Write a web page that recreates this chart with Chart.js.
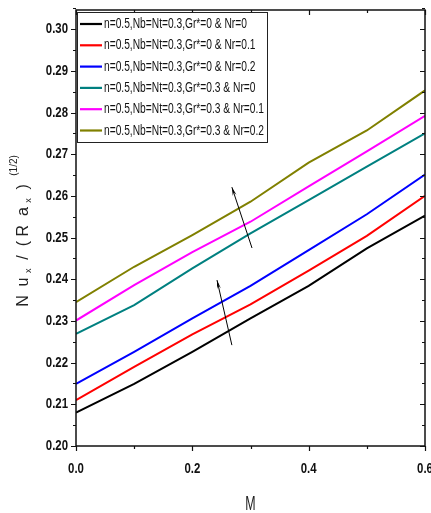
<!DOCTYPE html>
<html><head><meta charset="utf-8">
<script src="https://cdn.jsdelivr.net/npm/chart.js@4/dist/chart.umd.min.js"></script>
<style>html,body{margin:0;padding:0;background:#fff}#wrap{width:431px;height:513px}</style>
</head><body><div id="wrap"><canvas id="c" width="431" height="513"></canvas></div>
<script>
const M = [0, 0.1, 0.2, 0.3, 0.4, 0.5, 0.6];
const labels = [
  "n=0.5,Nb=Nt=0.3,Gr*=0 & Nr=0",
  "n=0.5,Nb=Nt=0.3,Gr*=0 & Nr=0.1",
  "n=0.5,Nb=Nt=0.3,Gr*=0 & Nr=0.2",
  "n=0.5,Nb=Nt=0.3,Gr*=0.3 & Nr=0",
  "n=0.5,Nb=Nt=0.3,Gr*=0.3 & Nr=0.1",
  "n=0.5,Nb=Nt=0.3,Gr*=0.3 & Nr=0.2"
];
const grA_nr0  = [0.2080, 0.2149, 0.2226, 0.2306, 0.2384, 0.2474, 0.2553];
const grA_nr01 = [0.2110, 0.2190, 0.2268, 0.2340, 0.2421, 0.2504, 0.2600];
const grA_nr02 = [0.2149, 0.2226, 0.2306, 0.2384, 0.2470, 0.2556, 0.2651];
const grB_nr0  = [0.2269, 0.2338, 0.2426, 0.2510, 0.2590, 0.2670, 0.2750];
const grB_nr01 = [0.2301, 0.2386, 0.2465, 0.2538, 0.2623, 0.2707, 0.2792];
const grB_nr02 = [0.2345, 0.2430, 0.2506, 0.2586, 0.2680, 0.2757, 0.2853];
const colors = ["#000000", "#ff0000", "#0000ff", "#008080", "#ff00ff", "#808000"];
const yTicks = [0.20,0.21,0.22,0.23,0.24,0.25,0.26,0.27,0.28,0.29,0.30];
const xTicks = [0.0, 0.2, 0.4, 0.6];
const xTitle = "M";
// arrows: [x1,y1,x2,y2] in data units (tail -> head)
const arrows = [[0.268, 0.2242, 0.2424, 0.2398],[0.3026, 0.2475, 0.268, 0.2621]];

const series = [grA_nr0, grA_nr01, grA_nr02, grB_nr0, grB_nr01, grB_nr02];
const datasets = series.map((s,i)=>({
  label: labels[i],
  data: s.map((v,j)=>({x:M[j], y:v})),
  borderColor: colors[i], backgroundColor: colors[i],
  borderWidth: 2, pointRadius: 0, tension: 0, fill:false
}));

const FONT = "'Liberation Sans',Arial,sans-serif";

function condText(ctx, txt, x, y, sx, align) {
  const w = ctx.measureText(txt).width * sx;
  let left = x;
  if (align === 'right') left = x - w; else if (align === 'center') left = x - w/2;
  ctx.save(); ctx.translate(left, y); ctx.scale(sx, 1);
  ctx.textAlign = 'left'; ctx.fillText(txt, 0, 0); ctx.restore();
}

const decor = {
  id:'decor',
  afterDraw(chart){
    const ctx = chart.ctx, a = chart.chartArea, xs = chart.scales.x, ys = chart.scales.y;
    ctx.save();
    // frame
    ctx.strokeStyle = '#111'; ctx.lineWidth = 1.5;
    ctx.strokeRect(a.left, a.top, a.right-a.left, a.bottom-a.top);
    // y ticks
    ctx.lineWidth = 1.2;
    for (let v = 0.200; v <= 0.3051; v += 0.005) {
      const major = Math.abs(Math.round(v*100) - v*100) < 1e-6;
      const y = Math.round(ys.getPixelForValue(v)) + 0.5;
      const L = major ? 5 : 3;
      ctx.beginPath();
      ctx.moveTo(a.left - L, y); ctx.lineTo(a.left, y);
      ctx.moveTo(a.right, y); ctx.lineTo(a.right - L, y);
      ctx.stroke();
    }
    for (let v = 0; v <= 0.6001; v += 0.1) {
      const major = Math.abs(Math.round(v*5) - v*5) < 1e-6;
      const x = Math.round(xs.getPixelForValue(v)) + 0.5;
      const L = major ? 5 : 3;
      ctx.beginPath();
      ctx.moveTo(x, a.bottom); ctx.lineTo(x, a.bottom + L);
      ctx.moveTo(x, a.top); ctx.lineTo(x, a.top + L);
      ctx.stroke();
    }
    // tick labels
    ctx.fillStyle = '#111'; ctx.font = "bold 15px " + FONT; ctx.textBaseline = 'middle';
    ys.ticks.forEach(t => condText(ctx, t.value.toFixed(2), a.left - 8, ys.getPixelForValue(t.value), 0.76, 'right'));
    xs.ticks.forEach(t => condText(ctx, t.value.toFixed(1), xs.getPixelForValue(t.value), a.bottom + 23, 0.76, 'center'));
    // arrows
    ctx.strokeStyle = '#000'; ctx.fillStyle = '#000'; ctx.lineWidth = 1;
    arrows.forEach(r=>{
      const x1 = xs.getPixelForValue(r[0]), y1 = ys.getPixelForValue(r[1]);
      const x2 = xs.getPixelForValue(r[2]), y2 = ys.getPixelForValue(r[3]);
      ctx.beginPath(); ctx.moveTo(x1,y1); ctx.lineTo(x2,y2); ctx.stroke();
      const ang = Math.atan2(y2-y1, x2-x1), h = 9, w = 0.22;
      ctx.beginPath(); ctx.moveTo(x2,y2);
      ctx.lineTo(x2 - h*Math.cos(ang-w), y2 - h*Math.sin(ang-w));
      ctx.lineTo(x2 - h*0.6*Math.cos(ang), y2 - h*0.6*Math.sin(ang));
      ctx.lineTo(x2 - h*Math.cos(ang+w), y2 - h*Math.sin(ang+w));
      ctx.closePath(); ctx.fill();
    });
    // legend
    const lx = a.left + 1, ly = a.top + 2, lw = 190, lh = 130, rowH = 21.3;
    ctx.fillStyle = '#fff'; ctx.fillRect(lx, ly, lw, lh);
    ctx.strokeStyle = '#222'; ctx.lineWidth = 1; ctx.strokeRect(lx+0.5, ly+0.5, lw, lh);
    ctx.font = "14.5px " + FONT; ctx.textBaseline = 'middle';
    chart.data.datasets.forEach((d,i)=>{
      const y = ly + 12 + i*rowH;
      ctx.strokeStyle = d.borderColor; ctx.lineWidth = 2.2;
      ctx.beginPath(); ctx.moveTo(lx+3, y); ctx.lineTo(lx+25, y); ctx.stroke();
      ctx.fillStyle = '#111'; condText(ctx, d.label, lx+27, y, 0.705, 'left');
    });
    // y title
    ctx.save();
    ctx.translate(28, 231); ctx.rotate(-Math.PI/2);
    ctx.fillStyle = '#222'; ctx.textBaseline = 'alphabetic';
    const parts = [["N  u ",16,0],["x",9,3],["  /  ( R  a ",16,0],["x",9,3],["  )",16,0],["   (1/2)",10,-11]];
    let total = 0;
    parts.forEach(p=>{ ctx.font = p[1]+"px " + FONT; total += ctx.measureText(p[0]).width; });
    let cx = -total/2;
    parts.forEach(p=>{ ctx.font = p[1]+"px " + FONT; ctx.textAlign='left'; ctx.fillText(p[0], cx, p[2]); cx += ctx.measureText(p[0]).width; });
    ctx.restore();
    // x title
    ctx.fillStyle = '#222'; ctx.font = "20px " + FONT; ctx.textBaseline = 'middle';
    condText(ctx, xTitle, (a.left+a.right)/2, 504, 0.62, 'center');
    ctx.restore();
  }
};

new Chart(document.getElementById('c'), {
  type: 'line',
  data: { datasets },
  options: {
    responsive: false, animation: false, devicePixelRatio: 1,
    layout: { padding: { top: 10, right: 6, left: 0, bottom: 0 } },
    plugins: { legend: { display: false }, tooltip: { enabled: false } },
    scales: {
      x: {
        type: 'linear', min: 0, max: 0.6,
        afterBuildTicks: ax => { ax.ticks = xTicks.map(v=>({value:v})); },
        afterFit: ax => { ax.height = 67; ax.paddingLeft = 0; ax.paddingRight = 0; },
        grid: { display: false }, border: { display: false },
        ticks: { display: false }
      },
      y: {
        type: 'linear', min: 0.20, max: 0.3046,
        afterBuildTicks: ax => { ax.ticks = yTicks.map(v=>({value:v})); },
        afterFit: ax => { ax.width = 76; ax.paddingTop = 0; ax.paddingBottom = 0; },
        grid: { display: false }, border: { display: false },
        ticks: { display: false }
      }
    }
  },
  plugins: [decor]
});
</script></body></html>
